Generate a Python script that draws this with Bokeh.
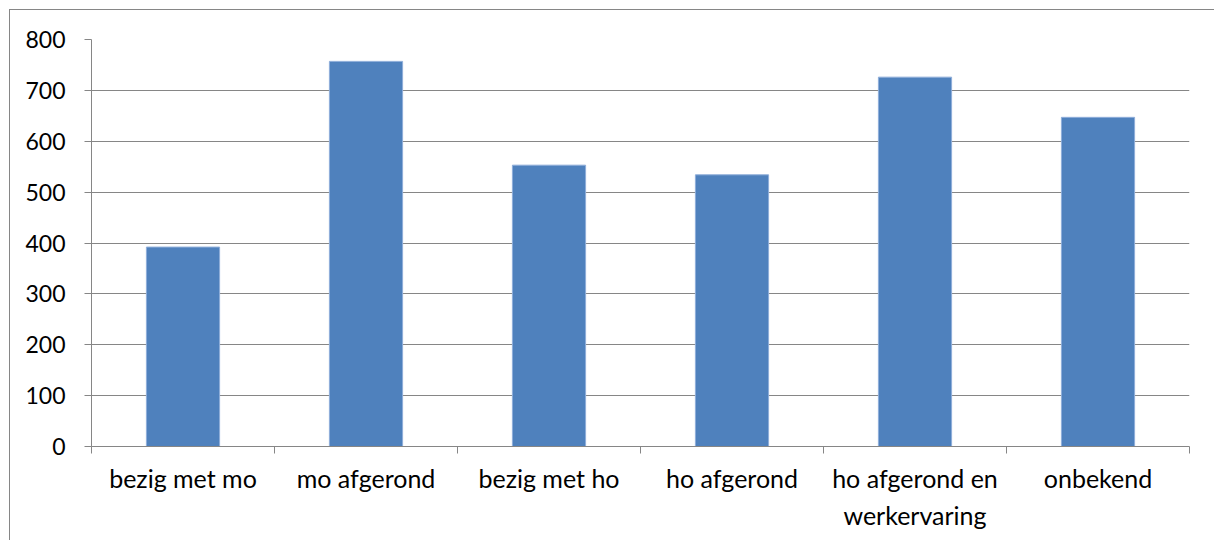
from bokeh.plotting import figure
from bokeh.models import Range1d, FixedTicker, ColumnDataSource, GlobalInlineStyleSheet
from bokeh.embed import file_html
from bokeh.resources import INLINE

categories = ["bezig met mo", "mo afgerond", "bezig met ho", "ho afgerond",
              "ho afgerond en\nwerkervaring", "onbekend"]
values = [392, 757, 553, 534, 726, 647]
y_ticks = [0, 100, 200, 300, 400, 500, 600, 700, 800]

FONT = "Lato"
GRID = "#868686"

xs = [i + 0.5 for i in range(len(categories))]
src = ColumnDataSource(dict(x=xs, top=values))

p = figure(width=1206, height=531, output_backend="svg", toolbar_location=None,
           x_range=Range1d(0, len(categories)), y_range=Range1d(0, 800),
           min_border_left=81, min_border_right=27, min_border_top=29,
           min_border_bottom=95)
p.styles = {"margin-left": "10px", "margin-top": "10px",
            "box-shadow": "-1px -1px 0px 0px #868686"}
p.stylesheets = [GlobalInlineStyleSheet(css="html, body { overflow: hidden; }")]
p.outline_line_color = None
p.background_fill_color = "white"
p.border_fill_color = "white"

p.vbar(x="x", top="top", width=0.4, bottom=0, source=src,
       fill_color="#4F81BD", line_color="#8FAEDA", line_width=1)

# x axis
p.xaxis.ticker = FixedTicker(ticks=xs, minor_ticks=list(range(len(categories) + 1)))
p.xaxis.major_label_overrides = {x: c for x, c in zip(xs, categories)}
p.xaxis.major_tick_line_color = None
p.xaxis.major_tick_out = 0
p.xaxis.major_tick_in = 0
p.xaxis.minor_tick_line_color = GRID
p.xaxis.minor_tick_out = 7
p.xaxis.minor_tick_in = 0
p.xaxis.axis_line_color = GRID
p.xaxis.major_label_standoff = 9
p.xaxis.major_label_text_font = FONT
p.xaxis.major_label_text_font_size = "25px"
p.xaxis.major_label_text_color = "black"
p.xaxis.major_label_text_line_height = 1.25

# y axis
p.yaxis.ticker = FixedTicker(ticks=y_ticks)
p.yaxis.minor_tick_line_color = None
p.yaxis.major_tick_line_color = GRID
p.yaxis.major_tick_out = 7
p.yaxis.major_tick_in = 0
p.yaxis.axis_line_color = GRID
p.yaxis.major_label_standoff = 19
p.yaxis.major_label_text_font = FONT
p.yaxis.major_label_text_font_size = "23px"
p.yaxis.major_label_text_color = "black"

p.xgrid.grid_line_color = None
p.ygrid.grid_line_color = GRID
p.ygrid.ticker = FixedTicker(ticks=y_ticks)

open("out.html", "w").write(file_html(p, INLINE))
